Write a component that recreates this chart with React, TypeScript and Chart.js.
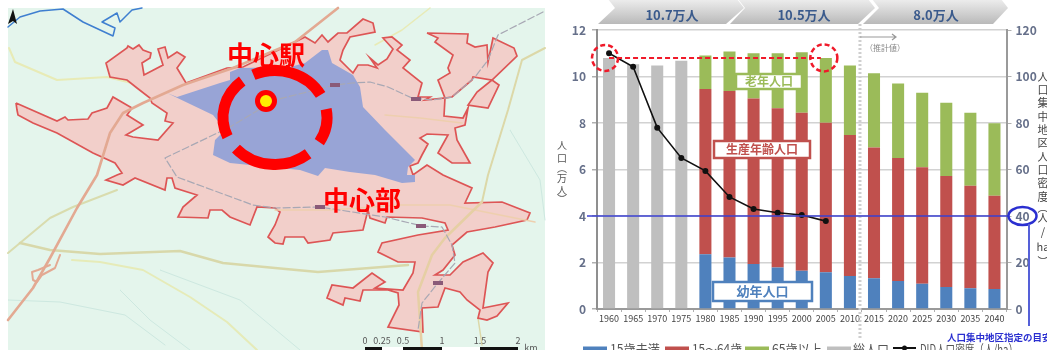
import React, { useEffect, useRef } from "react";
import Chart from "chart.js/auto";

const FONT = '"Noto Sans CJK JP", "Noto Sans", sans-serif';

// ---- population data (万人) ----
const years = ["1960","1965","1970","1975","1980","1985","1990","1995","2000","2005","2010","2015","2020","2025","2030","2035","2040"];
const totalOnly = [10.8, 10.53, 10.47, 10.68, null, null, null, null, null, null, null, null, null, null, null, null, null];
const under15 = [null, null, null, null, 2.35, 2.22, 1.94, 1.78, 1.65, 1.58, 1.42, 1.32, 1.2, 1.09, 0.95, 0.89, 0.86];
const age15to64 = [null, null, null, null, 7.11, 7.16, 7.11, 6.85, 6.79, 6.43, 6.06, 5.63, 5.3, 5.01, 4.77, 4.41, 4.01];
const age65plus = [null, null, null, null, 1.44, 1.69, 1.95, 2.37, 2.6, 2.79, 2.99, 3.19, 3.2, 3.2, 3.15, 3.14, 3.12];
const didDensity = [110, 104.2, 78, 65, 59.4, 48.2, 43, 41.4, 40.4, 37.8, null, null, null, null, null, null, null];
const rightTitle = ["人","口","集","中","地","区","人","口","密","度","︵","人","/","ha","︶"];
const leftTitle = ["人","口","︵","万","人","︶"];

// ---- map layers, in map units ----
type P = [number, number];
const mapExtent: P[] = [[8,8],[545,8],[545,350],[8,350]];
const didArea: P[] = [[16,103],[57,121],[65,117],[68,120],[88,119],[92,113],[107,108],[113,97],[132,108],[127,115],[143,125],[126,135],[133,137],[158,140],[173,123],[165,121],[167,113],[152,103],[150,98],[137,88],[127,80],[110,77],[106,63],[127,48],[128,46],[133,49],[139,45],[143,50],[151,53],[150,58],[142,63],[144,75],[163,65],[158,49],[165,47],[168,58],[177,52],[185,57],[177,68],[186,83],[227,68],[243,67],[295,42],[305,37],[315,43],[322,35],[328,42],[338,33],[347,33],[363,19],[373,23],[375,32],[350,37],[343,50],[340,60],[353,73],[358,65],[368,65],[377,68],[370,58],[378,65],[387,59],[393,49],[383,38],[392,37],[402,45],[397,50],[410,60],[403,68],[422,83],[418,97],[430,97],[425,100],[445,98],[444,116],[463,118],[468,108],[465,125],[455,128],[457,140],[470,163],[452,163],[438,153],[448,135],[427,134],[420,138],[428,144],[422,155],[418,163],[410,166],[413,175],[427,165],[443,175],[472,188],[465,203],[502,202],[530,213],[527,220],[495,227],[467,232],[452,245],[455,255],[443,270],[435,275],[450,275],[463,262],[483,253],[493,263],[488,272],[483,308],[508,303],[497,316],[487,320],[478,318],[480,310],[467,300],[460,292],[445,288],[438,307],[422,308],[423,332],[388,327],[399,305],[398,293],[388,290],[363,290],[360,301],[345,298],[343,305],[327,298],[332,285],[353,288],[372,273],[385,282],[375,288],[403,290],[413,273],[415,262],[398,262],[378,252],[382,243],[418,235],[448,230],[445,223],[422,218],[387,217],[385,223],[370,218],[368,210],[363,230],[333,233],[330,240],[308,243],[304,237],[285,237],[283,244],[275,243],[268,237],[275,225],[280,212],[275,208],[257,207],[250,225],[230,217],[222,210],[210,210],[208,218],[178,217],[183,207],[197,195],[175,188],[172,178],[167,178],[165,190],[135,178],[123,185],[106,180],[117,175],[122,173],[115,163],[93,153],[57,133],[33,123],[18,115],[17,110]];
const didBlobNorth: P[] = [[427,33],[438,38],[435,42],[453,55],[448,68],[450,73],[438,80],[445,98],[452,97],[472,80],[473,77],[492,80],[517,56],[514,48],[493,38],[488,62],[487,45],[475,47],[467,43],[468,34]];
const didBlobEast: P[] = [[492,80],[499,85],[488,108],[468,105],[477,92]];
const centralArea: P[] = [[167,93],[177,97],[220,83],[230,80],[230,72],[240,68],[290,67],[305,63],[322,50],[328,50],[332,63],[353,75],[360,87],[363,107],[385,130],[415,160],[408,167],[407,175],[415,175],[415,182],[402,183],[375,175],[350,172],[325,168],[318,176],[300,170],[280,168],[230,163],[213,155],[215,140],[225,130],[213,115]];
const northArrow: P[] = [[13,9],[17,24],[13,21],[8,24]];
const expressway: P[] = [[8,320],[33,288],[50,258],[77,208],[97,175],[110,133],[123,113],[143,103],[183,85],[233,68],[295,42],[338,8]];
const ramp: P[] = [[60,255],[55,268],[42,275],[37,282],[33,280],[32,272],[38,270],[50,265]];
const river: P[] = [[8,27],[20,17],[40,11],[63,9],[83,22],[113,36],[115,28],[102,22],[117,13],[120,22],[132,10],[142,8]];
const roadNorthWest: P[] = [[9,48],[15,62],[57,80],[107,77],[140,85],[165,95]];
const roadSouthA: P[] = [[8,253],[50,218],[73,207],[117,190]];
const roadSouthB: P[] = [[20,243],[50,250],[100,254],[180,251],[223,263],[275,268],[318,272],[408,265]];
const roadSouthC: P[] = [[72,260],[100,262],[143,270],[190,297],[227,322],[257,350]];
const roadEast: P[] = [[422,350],[418,292],[432,255],[445,238],[482,202]];
const roadNorth: P[] = [[375,45],[402,30],[430,8]];
const roadNorthEast: P[] = [[482,202],[488,175],[508,110],[522,60],[545,48]];
const roadFarEast: P[] = [[482,345],[478,318]];
const roadInner: P[] = [[385,115],[420,118],[462,123]];
const roadInnerSouth: P[] = [[275,210],[330,210],[400,205],[450,205],[535,222]];
const railway: P[] = [[543,12],[498,35],[488,60],[475,77],[452,97],[432,100],[412,98],[388,87],[370,82],[352,83],[335,85],[275,100],[230,127],[165,158],[177,177],[253,205],[275,208],[320,207],[385,217],[422,226],[442,227],[452,245],[455,263],[438,283],[422,303],[418,330]];
const faintA: P[] = [[8,300],[60,302],[125,315],[165,345]];
const faintB: P[] = [[120,290],[150,320],[190,350]];
const faintC: P[] = [[160,270],[240,300],[300,350]];
const faintD: P[] = [[510,130],[540,180],[545,220]];
const stations: P[] = [[335,85],[416,99],[320,207],[421,226],[438,283]];
const scaleLabels = ["0","0.25","0.5","1","1.5","2"];
const scaleStops = [365, 382, 403, 442, 480, 518];

const closed = (pts: P[]) => [...pts, pts[0]].map(([x, y]) => ({ x, y }));
const open = (pts: P[]) => pts.map(([x, y]) => ({ x, y }));

const area = (pts: P[], fillColor: string, stroke?: string, w = 0) => ({
  data: closed(pts), showLine: true, fill: "shape", backgroundColor: fillColor,
  borderColor: stroke ?? "transparent", borderWidth: w, pointRadius: 0, tension: 0,
});
const path = (pts: P[], color: string, w: number, dash: number[] = []) => ({
  data: open(pts), showLine: true, fill: false, borderColor: color, borderWidth: w,
  borderDash: dash, pointRadius: 0, tension: 0, borderCapStyle: "round", borderJoinStyle: "round",
});

// Ring, station marker and place names laid over the map.
const mapOverlay = {
  id: "mapOverlay",
  afterDatasetsDraw(chart: any) {
    const { ctx, scales: { x, y } } = chart;
    const px = (v: number) => x.getPixelForValue(v);
    const py = (v: number) => y.getPixelForValue(v);
    ctx.save();
    ctx.fillStyle = "#8a5a78";
    stations.forEach(([a, b]) => ctx.fillRect(px(a) - 5, py(b) - 2, 10, 4));

    ctx.strokeStyle = "#ff0000";
    ctx.lineWidth = 11;
    const arcs: [number, number][] = [[-2.0, -0.5], [-0.18, 0.55], [0.88, 2.42], [2.72, 4.03]];
    arcs.forEach(([from, to]) => {
      ctx.beginPath();
      ctx.ellipse(px(275), py(117.5), 52, 47, 0, from, to);
      ctx.stroke();
    });
    ctx.fillStyle = "#ff0000";
    ctx.beginPath(); ctx.arc(px(266), py(101), 11, 0, Math.PI * 2); ctx.fill();
    ctx.fillStyle = "#ffee00";
    ctx.beginPath(); ctx.arc(px(266), py(101), 6, 0, Math.PI * 2); ctx.fill();

    ctx.fillStyle = "#ff0000";
    ctx.textAlign = "center";
    ctx.textBaseline = "middle";
    ctx.font = `bold 26px ${FONT}`;
    ctx.fillText("中心駅", px(266), py(55));
    ctx.fillText("中心部", px(362), py(200));

    // Scale bar
    ctx.fillStyle = "#555";
    ctx.font = `9px ${FONT}`;
    scaleLabels.forEach((t, i) => ctx.fillText(t, px(scaleStops[i]), py(341)));
    ctx.fillText("km", px(531), py(348));
    for (let i = 0; i < scaleStops.length - 1; i++) {
      ctx.fillStyle = i % 2 === 0 ? "#111" : "#fff";
      const a = px(scaleStops[i]);
      ctx.fillRect(a, py(347), px(scaleStops[i + 1]) - a, 3);
    }
    ctx.restore();
  },
};

const labelBox = (ctx: any, l: number, t: number, r: number, b: number, text: string, color: string, size: number) => {
  ctx.fillStyle = "#fff";
  ctx.strokeStyle = color;
  ctx.lineWidth = 2.5;
  ctx.fillRect(l, t, r - l, b - t);
  ctx.strokeRect(l, t, r - l, b - t);
  ctx.fillStyle = color;
  ctx.font = `bold ${size}px ${FONT}`;
  ctx.textAlign = "center";
  ctx.textBaseline = "middle";
  ctx.fillText(text, (l + r) / 2, (t + b) / 2);
};

// Period banners, guide lines, callouts, legend row and vertical axis titles of the population chart.
const chartOverlay = {
  id: "chartOverlay",
  beforeDatasetsDraw(chart: any) {
    const { ctx, scales: { x } } = chart;
    const split = (x.getPixelForValue(10) + x.getPixelForValue(11)) / 2 - 2;
    ctx.save();
    ctx.strokeStyle = "#cfcfcf";
    ctx.lineWidth = 3;
    ctx.setLineDash([2, 2]);
    ctx.beginPath();
    ctx.moveTo(split, 24);
    ctx.lineTo(split, 338);
    ctx.stroke();
    ctx.restore();
  },
  afterDatasetsDraw(chart: any) {
    const { ctx, scales: { x, y, y1 }, chartArea } = chart;
    ctx.save();
    // canvas sits 550px in from the page edge
    const ox = 550;
    const banner = (a: number, b: number, c: number, d: number, text: string, cx: number) => {
      const g = ctx.createLinearGradient(0, 0, 0, 24);
      g.addColorStop(0, "#ececec");
      g.addColorStop(1, "#b9b9b9");
      ctx.fillStyle = g;
      ctx.beginPath();
      ctx.moveTo(a - ox, -1);
      ctx.lineTo(a + 7 - ox, 8);
      ctx.lineTo(b - ox, 24);
      ctx.lineTo(c - ox, 24);
      ctx.lineTo(d - ox, 8);
      ctx.lineTo(d - 7 - ox, -1);
      ctx.closePath();
      ctx.fill();
      ctx.fillStyle = "#3a5a8c";
      ctx.font = `bold 13px ${FONT}`;
      ctx.textAlign = "center";
      ctx.textBaseline = "middle";
      ctx.fillText(text, cx - ox, 15);
    };
    banner(608, 598, 726, 744, "10.7万人", 672);
    banner(738, 730, 858, 875, "10.5万人", 804);
    banner(872, 863, 993, 1008, "8.0万人", 936);

    // Reference level carried across from the 2005 population
    const topY = y.getPixelForValue(10.8);
    ctx.strokeStyle = "#f01a2a";
    ctx.lineWidth = 2;
    ctx.setLineDash([5, 3]);
    ctx.beginPath();
    ctx.moveTo(x.getPixelForValue(0), topY);
    ctx.lineTo(x.getPixelForValue(9) - 5, topY);
    ctx.stroke();
    ctx.lineWidth = 2.5;
    ctx.beginPath(); ctx.arc(x.getPixelForValue(0) - 4, topY, 13, 0, Math.PI * 2); ctx.stroke();
    ctx.beginPath(); ctx.arc(x.getPixelForValue(9) - 2, topY, 13.5, 0, Math.PI * 2); ctx.stroke();
    ctx.setLineDash([]);

    // DID designation threshold
    const lvl = y1.getPixelForValue(40);
    ctx.strokeStyle = "#3a3fd0";
    ctx.lineWidth = 1.5;
    ctx.beginPath();
    ctx.moveTo(chartArea.left - 10, lvl);
    ctx.lineTo(chartArea.right + 2, lvl);
    ctx.stroke();
    ctx.lineWidth = 2.5;
    ctx.strokeStyle = "#2a2fd0";
    ctx.beginPath(); ctx.ellipse(1022.5 - ox, lvl, 14, 9, 0, 0, Math.PI * 2); ctx.stroke();
    ctx.strokeStyle = "#5560d8";
    ctx.lineWidth = 2;
    ctx.beginPath();
    ctx.moveTo(1029 - ox, lvl + 8);
    ctx.lineTo(1029 - ox, 326);
    ctx.stroke();
    ctx.fillStyle = "#2a2fd0";
    ctx.font = `bold 9.5px ${FONT}`;
    ctx.textAlign = "left";
    ctx.textBaseline = "middle";
    ctx.fillText("人口集中地区指定の目安", 947 - ox, 337);

    // Projection marker
    ctx.strokeStyle = "#999";
    ctx.lineWidth = 1.2;
    ctx.beginPath();
    ctx.moveTo(860 - ox, 37);
    ctx.lineTo(896 - ox, 37);
    ctx.moveTo(892 - ox, 34);
    ctx.lineTo(896 - ox, 37);
    ctx.lineTo(892 - ox, 40);
    ctx.stroke();
    ctx.fillStyle = "#888";
    ctx.font = `8px ${FONT}`;
    ctx.textAlign = "center";
    ctx.fillText("（推計値）", 885 - ox, 48);

    labelBox(ctx, 736 - ox, 74, 802 - ox, 89, "老年人口", "#9bbb59", 12);
    labelBox(ctx, 714 - ox, 141, 810 - ox, 158, "生産年齢人口", "#c0504d", 12);
    labelBox(ctx, 713 - ox, 282, 812 - ox, 301, "幼年人口", "#4f81bd", 13);

    // Axis titles set one character per line
    ctx.fillStyle = "#555";
    ctx.font = `10px ${FONT}`;
    ctx.textAlign = "center";
    const leftRows = [145, 158, 168, 178, 190, 199];
    leftTitle.forEach((c, i) => ctx.fillText(c, 562 - ox, leftRows[i]));
    ctx.fillStyle = "#444";
    ctx.font = `11px ${FONT}`;
    const rightRows = [77, 90, 103, 117, 130, 143, 157, 170, 183, 197, 208, 218, 232, 247, 262];
    rightTitle.forEach((c, i) => ctx.fillText(c, 1043 - ox, rightRows[i]));

    // Legend row, running off the bottom edge of the page
    const slots = [
      { swatch: 583, text: 610, fit: 50 },
      { swatch: 665, text: 692, fit: 50 },
      { swatch: 745, text: 772, fit: 50 },
      { swatch: 827, text: 853, fit: 36 },
      { swatch: 893, text: 920, fit: 98 },
    ];
    chart.data.datasets.forEach((ds: any, i: number) => {
      const s = slots[i];
      if (ds.type === "line") {
        ctx.fillStyle = ds.borderColor;
        ctx.fillRect(s.swatch - ox, 347, 23, 2);
        ctx.beginPath(); ctx.arc(s.swatch + 11.5 - ox, 348, 2.5, 0, Math.PI * 2); ctx.fill();
      } else {
        ctx.fillStyle = ds.backgroundColor;
        ctx.fillRect(s.swatch - ox, 346.5, 24, 5);
      }
      ctx.fillStyle = "#555";
      ctx.font = `13px ${FONT}`;
      ctx.textAlign = "left";
      ctx.textBaseline = "middle";
      ctx.fillText(ds.label, s.text - ox, 349, s.fit);
    });
    ctx.restore();
  },
};

export default function App() {
  const mapRef = useRef<HTMLCanvasElement>(null);
  const barRef = useRef<HTMLCanvasElement>(null);

  useEffect(() => {
    document.body.style.background = "#fff";

    // Bottom layer first; Chart.js paints the first dataset last, so the list is reversed.
    const layers: any[] = [
      area(mapExtent, "#e4f5ec"),
      path(faintA, "#cde8e0", 1),
      path(faintB, "#cde8e0", 1),
      path(faintC, "#cde8e0", 1),
      path(faintD, "#cde8e0", 1),
      path(roadNorthWest, "#e8ebb6", 2),
      path(roadSouthA, "#d9dcae", 2),
      path(roadSouthB, "#d8d8aa", 2.5),
      path(roadSouthC, "#e6ebb8", 2),
      path(roadNorth, "#e8ebb6", 1.5),
      path(roadNorthEast, "#dcd8a8", 2),
      path(roadFarEast, "#dcd8a8", 1.5),
      area(didArea, "#f2cfca", "#dd5555", 1.7),
      area(didBlobNorth, "#f2cfca", "#dd5555", 1.7),
      area(didBlobEast, "#f2cfca", "#dd5555", 1.7),
      path(roadInner, "#eecfae", 1.5),
      path(roadInnerSouth, "#eecfae", 1.5),
      path(roadEast, "#e6cfa4", 2.5),
      path(expressway, "#e3a992", 2.6),
      path(ramp, "#e3a992", 2),
      path(river, "#3f7fd0", 1.5),
      area(centralArea, "#98a4d6"),
      path(railway, "#a8a8b4", 1.2, [7, 3]),
      area(northArrow, "#111"),
    ];

    const map = new Chart(mapRef.current!, {
      type: "scatter",
      data: { datasets: layers.reverse() },
      options: {
        animation: false,
        responsive: false,
        layout: { padding: 0 },
        plugins: { legend: { display: false }, tooltip: { enabled: false } },
        scales: {
          x: { type: "linear", min: 0, max: 550, display: false },
          y: { type: "linear", min: 0, max: 350, reverse: true, display: false },
        },
      },
      plugins: [mapOverlay],
    } as any);

    const pop = new Chart(barRef.current!, {
      data: {
        labels: years,
        datasets: [
          { type: "bar", label: "15歳未満", data: under15, backgroundColor: "#4f81bd", stack: "p", yAxisID: "y", order: 2 },
          { type: "bar", label: "15～64歳", data: age15to64, backgroundColor: "#c0504d", stack: "p", yAxisID: "y", order: 2 },
          { type: "bar", label: "65歳以上", data: age65plus, backgroundColor: "#9bbb59", stack: "p", yAxisID: "y", order: 2 },
          { type: "bar", label: "総人口", data: totalOnly, backgroundColor: "#bfbfbf", stack: "p", yAxisID: "y", order: 2 },
          {
            type: "line", label: "DID人口密度（人/ha）", data: didDensity, yAxisID: "y1", order: 1,
            borderColor: "#111", backgroundColor: "#111", borderWidth: 1.6,
            pointRadius: 2.2, pointBackgroundColor: "#111", tension: 0, spanGaps: false,
          },
        ],
      } as any,
      options: {
        animation: false,
        responsive: false,
        layout: { padding: { left: 0, top: 30, right: 0, bottom: 0 } },
        datasets: { bar: { barPercentage: 0.5, categoryPercentage: 1 } },
        plugins: { tooltip: { enabled: false }, legend: { display: false } },
        scales: {
          x: {
            stacked: true,
            grid: { drawOnChartArea: false, drawTicks: true, tickLength: 3, color: "#b0b0b0" },
            border: { color: "#9a9a9a", width: 2 },
            ticks: { color: "#444", font: { family: FONT, size: 9 }, maxRotation: 0, autoSkip: false, padding: 1 },
            afterFit(s: any) { s.height = 41; },
          },
          y: {
            stacked: true, min: 0, max: 12,
            grid: { color: "#d2d2d2", lineWidth: 1.5, tickLength: 5, tickColor: "#b0b0b0" },
            border: { color: "#8f8f8f", width: 2 },
            ticks: { stepSize: 2, color: "#66708a", font: { family: FONT, size: 12, weight: "bold" }, padding: 6 },
            afterFit(s: any) { s.width = 47; },
          },
          y1: {
            position: "right", min: 0, max: 120,
            grid: { drawOnChartArea: false, tickLength: 5, tickColor: "#b0b0b0" },
            border: { color: "#9a9a9a", width: 2 },
            ticks: { stepSize: 20, color: "#66708a", font: { family: FONT, size: 12, weight: "bold" }, padding: 4 },
            afterFit(s: any) { s.width = 40.5; },
          },
        },
      },
      plugins: [chartOverlay],
    } as any);

    return () => { map.destroy(); pop.destroy(); };
  }, []);

  return (
    <div style={{ position: "fixed", left: 0, top: 0, width: 1047, height: 350, overflow: "hidden", background: "#fff" }}>
      <canvas ref={mapRef} width={550} height={350} style={{ position: "absolute", left: 0, top: 0 }} />
      <canvas ref={barRef} width={497} height={350} style={{ position: "absolute", left: 550, top: 0 }} />
    </div>
  );
}
